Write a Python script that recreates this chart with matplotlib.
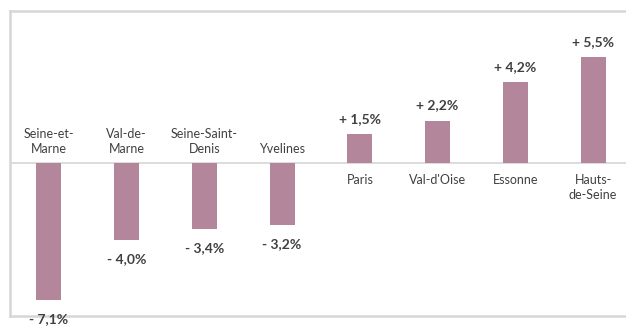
import matplotlib
matplotlib.use("Agg")
import matplotlib.pyplot as plt

# évolution par département
departements = ["Seine-et-\nMarne", "Val-de-\nMarne", "Seine-Saint-\nDenis", "Yvelines",
                "Paris", "Val-d'Oise", "Essonne", "Hauts-\nde-Seine"]
evolution = [-7.1, -4.0, -3.4, -3.2, 1.5, 2.2, 4.2, 5.5]

plt.rcParams['font.family'] = ['Lato', 'DejaVu Sans']
couleur_barre = "#b3869c"
couleur_texte = "#404040"
couleur_cadre = "#d6d6d6"

fig = plt.figure(figsize=(6.26, 3.26), dpi=100)
ax = fig.add_axes([10/626, 10/326, 622/626, 305/326])

x = range(len(evolution))
ax.bar(x, evolution, width=0.32, color=couleur_barre, zorder=2)
ax.axhline(0, color=couleur_cadre, lw=1.2, zorder=1)

ax.set_xlim(-0.5, 7.5)
ax.set_ylim(-7.93, 7.88)

for i, v in enumerate(evolution):
    signe = "+" if v > 0 else "-"
    txt = signe + " " + ("%.1f" % abs(v)).replace(".", ",") + "%"
    if v > 0:
        ax.annotate(txt, (i, v), xytext=(0, 6.5), textcoords="offset points",
                    ha="center", va="bottom", fontsize=10, fontweight="bold",
                    color=couleur_texte, annotation_clip=False)
        ax.annotate(departements[i], (i, 0), xytext=(0, -8), textcoords="offset points",
                    ha="center", va="top", fontsize=9, color=couleur_texte,
                    linespacing=1.3)
    else:
        ax.annotate(txt, (i, v), xytext=(0, -9.5), textcoords="offset points",
                    ha="center", va="top", fontsize=10, fontweight="bold",
                    color=couleur_texte, annotation_clip=False)
        ax.annotate(departements[i], (i, 0), xytext=(0, 6), textcoords="offset points",
                    ha="center", va="bottom", fontsize=9, color=couleur_texte,
                    linespacing=1.3)

ax.set_xticks([])
ax.set_yticks([])
for cote in ["left", "top", "bottom"]:
    ax.spines[cote].set_color(couleur_cadre)
    ax.spines[cote].set_linewidth(1.8)
ax.spines["right"].set_visible(False)

fig.savefig("out.png", dpi=100)
